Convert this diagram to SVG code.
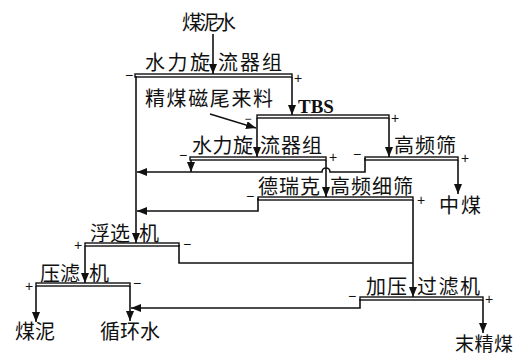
<svg xmlns="http://www.w3.org/2000/svg" width="520" height="356" viewBox="0 0 520 356">
<style>
.t{font-family:"Noto Sans CJK SC","Noto Sans",sans-serif;font-size:20px;fill:#111}
.s{font-family:"Liberation Sans",sans-serif;font-size:14px;fill:#111;text-anchor:middle}
.b{fill:#fff;stroke:#111;stroke-width:1.4}
.c{fill:none;stroke:#111;stroke-width:1.6}
.tbs{font-family:"Liberation Serif",serif;font-size:19px;font-weight:bold;fill:#111}
</style>
<defs>
<marker id="ah" markerUnits="userSpaceOnUse" markerWidth="10" markerHeight="8" refX="10" refY="4" orient="auto">
<path d="M0,0 L10,4 L0,8 z" fill="#111"/>
</marker>
</defs>
<rect width="520" height="356" fill="#fff"/>

<g id="feed">
<text class="t" x="182" y="30" textLength="54">煤泥水</text>
</g>
<g id="magtail">
<text class="t" x="145" y="106" textLength="128">精煤磁尾来料</text>
</g>

<g id="hc1">
<rect class="b" x="135" y="74" width="157" height="3"/>
<text class="t" x="145" y="70" textLength="65">水力旋</text>
<text class="t" x="218" y="70" textLength="64">流器组</text>
<text class="s" x="129" y="80">−</text>
<text class="s" x="298" y="83">+</text>
</g>

<g id="tbs">
<rect class="b" x="257" y="115" width="132" height="3"/>
<text class="tbs" x="298" y="113">TBS</text>
<text class="s" x="248" y="123" style="font-size:12px">−</text>
<text class="s" x="395" y="123">+</text>
</g>

<g id="hc2">
<rect class="b" x="190" y="157" width="136" height="3"/>
<text class="t" x="192" y="153" textLength="61">水力旋</text>
<text class="t" x="260" y="153" textLength="62">流器组</text>
<text class="s" x="183" y="160">−</text>
<text class="s" x="333" y="162">+</text>
</g>

<g id="hfs">
<rect class="b" x="365" y="157" width="93" height="3"/>
<text class="t" x="394" y="153" textLength="62">高频筛</text>
<text class="s" x="357" y="159">−</text>
<text class="s" x="465" y="163">+</text>
</g>

<g id="midcoal">
<text class="t" x="439" y="213" textLength="42">中煤</text>
</g>

<g id="derrick">
<rect class="b" x="258" y="197" width="155" height="3"/>
<text class="t" x="258" y="194" textLength="62">德瑞克</text>
<text class="t" x="330" y="194" textLength="83">高频细筛</text>
<text class="s" x="250" y="201">−</text>
<text class="s" x="421" y="205">+</text>
</g>

<g id="flot">
<rect class="b" x="85" y="243" width="94" height="3"/>
<text class="t" x="90" y="241" textLength="40">浮选</text>
<text class="t" x="139" y="241">机</text>
<text class="s" x="78" y="250">+</text>
<text class="s" x="187" y="249">−</text>
</g>

<g id="press">
<rect class="b" x="36" y="283" width="94" height="3"/>
<text class="t" x="40" y="281" textLength="40">压滤</text>
<text class="t" x="89" y="281">机</text>
<text class="s" x="29" y="291">+</text>
<text class="s" x="137" y="288">−</text>
</g>

<g id="pfilter">
<rect class="b" x="360" y="297" width="123" height="3"/>
<text class="t" x="366" y="294" textLength="41">加压</text>
<text class="t" x="417" y="294" textLength="63">过滤机</text>
<text class="s" x="352" y="301">−</text>
<text class="s" x="489" y="304">+</text>
</g>

<g id="slime"><text class="t" x="15" y="339" textLength="40">煤泥</text></g>
<g id="water"><text class="t" x="100" y="339" textLength="60">循环水</text></g>
<g id="fine"><text class="t" x="455" y="351" textLength="58" style="font-size:19px">末精煤</text></g>

<g id="connectors">
<path class="c" d="M213,34 V74" marker-end="url(#ah)"/>
<path class="c" d="M136,76 V243" marker-end="url(#ah)"/>
<path class="c" d="M292,77 V115" marker-end="url(#ah)"/>
<path class="c" d="M210,114 L256,128" marker-end="url(#ah)"/>
<path class="c" d="M257,118 V157" marker-end="url(#ah)"/>
<path class="c" d="M389,118 V157" marker-end="url(#ah)"/>
<path class="c" d="M191,160 V172" marker-end="url(#ah)"/>
<path class="c" d="M365,158 V172 H330 A4,4 0 0 0 322,172 H137" marker-end="url(#ah)"/>
<path class="c" d="M326,160 V197" marker-end="url(#ah)"/>
<path class="c" d="M458,160 V194" marker-end="url(#ah)"/>
<path class="c" d="M258,198 V211 H137" marker-end="url(#ah)"/>
<path class="c" d="M413,200 V297" marker-end="url(#ah)"/>
<path class="c" d="M179,245 V263 H413"/>
<path class="c" d="M85,246 V283" marker-end="url(#ah)"/>
<path class="c" d="M36,286 V322" marker-end="url(#ah)"/>
<path class="c" d="M130,286 V321" marker-end="url(#ah)"/>
<path class="c" d="M360,299 V308 H131" marker-end="url(#ah)"/>
<path class="c" d="M483,300 V333" marker-end="url(#ah)"/>
</g>
</svg>
